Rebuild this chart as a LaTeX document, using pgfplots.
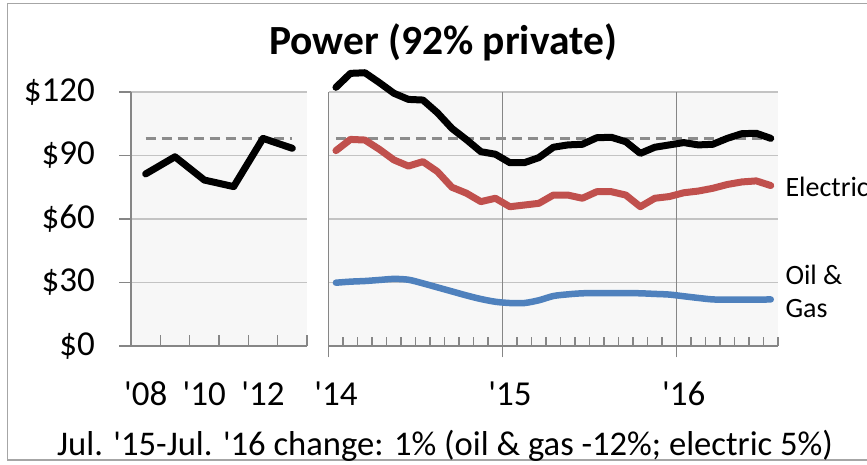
\documentclass[border=0pt]{standalone}
\usepackage{fontspec}
\setmainfont{Carlito}
\usepackage{pgfplots}
\pgfplotsset{compat=1.18}
\definecolor{axgray}{HTML}{868686}
\definecolor{gridgray}{HTML}{C3C3C3}
\definecolor{bggray}{HTML}{F7F7F7}
\definecolor{elecred}{HTML}{C0504D}
\definecolor{oilblue}{HTML}{4F81BD}
\definecolor{dashgray}{HTML}{8C8C8C}
\definecolor{framegray}{HTML}{A6A6A6}
\newcommand{\ap}{\textquotesingle}
\pgfplotsset{
  panel/.style={
    scale only axis, height=254pt, ymin=0, ymax=120, clip=false,
    axis x line*=bottom, axis y line*=left,
    axis line style={-, axgray, line width=1.4pt},
    axis background/.style={fill=bggray},
    ytick={0,30,60,90,120}, ymajorgrids,
    major y grid style={gridgray, line width=1.3pt},
    tick align=outside,
    tick style={axgray, line width=1.3pt},
    /pgf/number format/assume math mode=true,
    tick label style={font=\fontsize{35}{40}\selectfont},
    xticklabel style={anchor=base, yshift=-48pt},
  },
  ser/.style={line width=7pt, line join=round, line cap=round},
}
\begin{document}
\begin{tikzpicture}[x=1pt,y=1pt]
\useasboundingbox (0,0) rectangle (867,465);
\draw[framegray, line width=1.5pt] (7.3,5) rectangle (890,461.7);
% left panel
\begin{axis}[panel, width=176pt, at={(131pt,119pt)}, anchor=south west,
  xmin=0, xmax=6,
  xtick={0.5,2.5,4.5}, xticklabels={\ap08,\ap10,\ap12},
  every major x tick/.append style={draw=none},
  major tick length=12pt,
  yticklabels={\$0,\$30,\$60,\$90,\$120},
  yticklabel style={anchor=east, inner sep=0pt, xshift=-24pt},
]
\addplot[dashgray, line width=2.5pt, dash pattern=on 10pt off 6pt] coordinates {(0.5,98) (5.5,98)};
\addplot[ser, black] coordinates {(0.5,81.3) (1.5,89.4) (2.5,78.4) (3.5,75.3) (4.5,98.1) (5.5,93.4)};
\pgfplotsinvokeforeach{1,2,3,4,5,6}{\draw[axgray, line width=1.5pt] (axis cs:#1,0) -- (axis cs:#1,5.2);}
\end{axis}
% right panel
\begin{axis}[panel, width=449.3pt, at={(328.7pt,119pt)}, anchor=south west,
  xmin=0, xmax=31,
  xtick={0,12,24}, xticklabels={},
  major tick length=11.3pt,
  extra x ticks={0.5,12.5,24.5}, extra x tick labels={\ap14,\ap15,\ap16},
  extra x tick style={grid=none, tick style={draw=none}},
  yticklabels={}, every major y tick/.append style={draw=none},
]
\pgfplotsinvokeforeach{12,24}{\draw[axgray, line width=1.5pt] (axis cs:#1,0) -- (axis cs:#1,120);}
\addplot[dashgray, line width=2.5pt, dash pattern=on 10pt off 6pt] coordinates {(0.5,98) (30.5,98)};
\addplot[ser, oilblue, line width=6.5pt, smooth, tension=0.5] coordinates {
(0.5,29.9) (1.5,30.4) (2.5,30.7) (3.5,31.2) (4.5,31.7) (5.5,31.3) (6.5,29.6) (7.5,27.7) (8.5,25.8) (9.5,23.9)
(10.5,22.2) (11.5,20.9) (12.5,20.3) (13.5,20.3) (14.5,21.6) (15.5,23.6) (16.5,24.4) (17.5,24.9) (18.5,25) (19.5,25)
(20.5,25) (21.5,24.9) (22.5,24.6) (23.5,24.3) (24.5,23.5) (25.5,22.7) (26.5,22) (27.5,21.9) (28.5,21.9) (29.5,21.9) (30.5,22)};
\addplot[ser, elecred] coordinates {
(0.5,92.3) (1.5,97.6) (2.5,97.3) (3.5,92.9) (4.5,87.9) (5.5,85) (6.5,87.1) (7.5,82.4) (8.5,75) (9.5,72.2)
(10.5,68.2) (11.5,69.8) (12.5,65.8) (13.5,66.6) (14.5,67.4) (15.5,71.3) (16.5,71.3) (17.5,69.8) (18.5,72.9) (19.5,72.9)
(20.5,71.3) (21.5,65.8) (22.5,69.8) (23.5,70.6) (24.5,72.4) (25.5,73.2) (26.5,74.5) (27.5,76.3) (28.5,77.5) (29.5,78) (30.5,75.8)};
\addplot[ser, black] coordinates {
(0.5,122.2) (1.5,128.8) (2.5,129.1) (3.5,124.4) (4.5,119.4) (5.5,116.5) (6.5,116.2) (7.5,110.2) (8.5,102.8) (9.5,97.5)
(10.5,91.8) (11.5,90.6) (12.5,86.6) (13.5,86.6) (14.5,89) (15.5,93.9) (16.5,95) (17.5,95.3) (18.5,98.4) (19.5,98.6)
(20.5,96.5) (21.5,91) (22.5,93.9) (23.5,95) (24.5,96.1) (25.5,95) (26.5,95.3) (27.5,98.1) (28.5,100.3) (29.5,100.5) (30.5,98.1)};
\pgfplotsinvokeforeach{1,2,...,31}{\draw[axgray, line width=1.5pt] (axis cs:#1,0) -- (axis cs:#1,4.1);}
\end{axis}
\node[anchor=base, font=\bfseries\fontsize{41.5}{48}\selectfont] at (443,410) {Power (92\% private)};
\node[anchor=base west, font=\fontsize{28}{34}\selectfont] at (782,268.3) {Electric};
\node[anchor=base west, font=\fontsize{28}{34}\selectfont] at (782,180) {Oil \&};
\node[anchor=base west, font=\fontsize{28}{34}\selectfont] at (782,147) {Gas};
\node[anchor=base west, font=\fontsize{34.6}{40}\selectfont, inner sep=0pt] at (57,9) {Jul. \ap15-Jul. \ap16 change: 1\% (oil \& gas -12\%; electric 5\%)};
\end{tikzpicture}
\end{document}
